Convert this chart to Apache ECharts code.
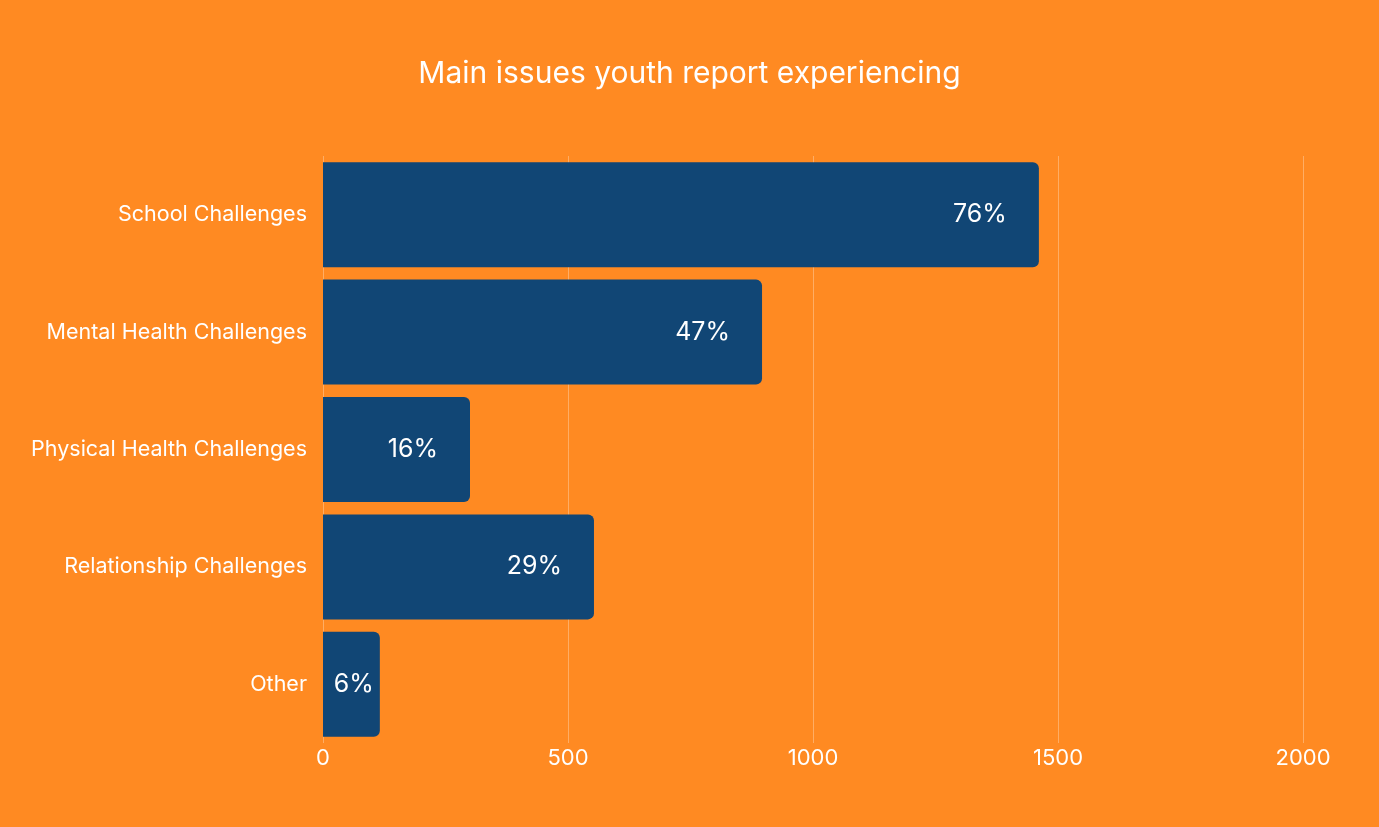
<!DOCTYPE html>
<html>
<head>
<meta charset="utf-8">
<script src="https://cdn.jsdelivr.net/npm/echarts@6/dist/echarts.min.js"></script>
<style>
  html, body { margin: 0; padding: 0; background: #ff8a22; }
  #main { width: 1379px; height: 827px; }
</style>
</head>
<body>
<div id="main"></div>
<script>
// categories, top to bottom
var categories = ['School Challenges', 'Mental Health Challenges', 'Physical Health Challenges', 'Relationship Challenges', 'Other'];
// bar lengths
var values = [1461, 896, 300, 553, 116];
// text printed in each bar
var percentLabels = ['76%', '47%', '16%', '29%', '6%'];
var xTicks = [0, 500, 1000, 1500, 2000];

var myChart = echarts.init(document.getElementById('main'));

var barData = values.map(function (v, i) {
    var item = { value: v };
    if (v < 200) {
        item.label = { distance: 6 };
    }
    return item;
});

var option = {
    backgroundColor: '#ff8a22',
    textStyle: { fontFamily: 'Inter, Lato, sans-serif' },
    title: {
        text: 'Main issues youth report experiencing',
        left: 'center',
        top: 54,
        textStyle: { color: '#ffffff', fontSize: 30, fontWeight: 'normal', fontFamily: 'Inter, Lato, sans-serif' }
    },
    grid: { left: 323, right: 76, top: 156, bottom: 84, containLabel: false },
    xAxis: {
        type: 'value',
        min: xTicks[0],
        max: xTicks[xTicks.length - 1],
        interval: 500,
        axisLine: { show: false },
        axisTick: { show: false },
        axisLabel: { color: '#ffffff', fontSize: 22, margin: 4, formatter: function (v) { return String(v); } },
        splitLine: { show: true, lineStyle: { color: 'rgba(255,255,255,0.3)', width: 1 } }
    },
    yAxis: {
        type: 'category',
        data: categories,
        inverse: true,
        axisLine: { show: false },
        axisTick: { show: false },
        axisLabel: { color: '#ffffff', fontSize: 21.5, margin: 16 }
    },
    series: [{
        type: 'bar',
        data: barData,
        barCategoryGap: '10.6%',
        itemStyle: { color: '#114675', borderRadius: [0, 6, 6, 0] },
        label: {
            show: true,
            position: 'insideRight',
            distance: 32,
            color: '#ffffff',
            fontSize: 25,
            formatter: function (p) { return percentLabels[p.dataIndex]; }
        }
    }]
};

myChart.setOption(option);
</script>
</body>
</html>
